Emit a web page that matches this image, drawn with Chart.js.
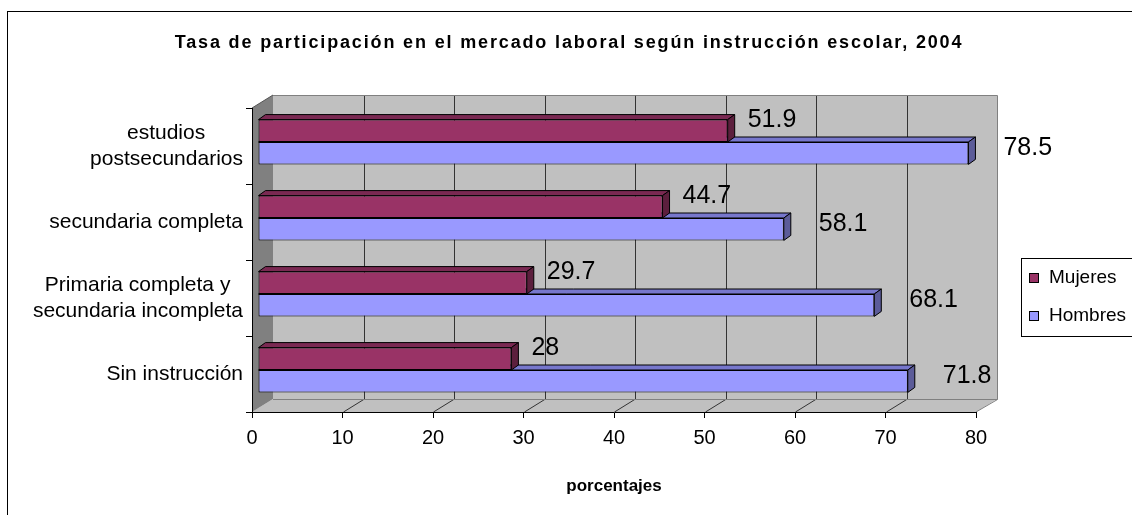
<!DOCTYPE html>
<html><head><meta charset="utf-8">
<script src="https://cdn.jsdelivr.net/npm/chart.js@4/dist/chart.umd.min.js"></script>
<style>html,body{margin:0;padding:0;background:#fff;overflow:hidden}</style>
</head><body><canvas id="c" width="1132" height="515"></canvas>
<script>
// ---- data ----
const categories = [['estudios', 'postsecundarios'], 'secundaria completa', ['Primaria completa y', 'secundaria incompleta'], 'Sin instrucción'];
const seriesNames = ['Mujeres', 'Hombres'];
const mujeres = [51.9, 44.7, 29.7, 28];
const hombres = [78.5, 58.1, 68.1, 71.8];
const xTicks = [0, 10, 20, 30, 40, 50, 60, 70, 80];
const titleText = 'Tasa de participación en el mercado laboral según instrucción escolar, 2004';
const axisTitle = 'porcentajes';

// ---- style ----
const FONT = "'Liberation Sans', Arial, sans-serif";
const fill = ['#993366', '#9999FF'];
const faces = [{top: '#7a2952', side: '#5c1f3d'}, {top: '#7777cc', side: '#5c5c99'}];
const wallDepth = {dx: 21, dy: -13};
const barShift = {dx: 6, dy: -4};
const barDepth = {dx: 7, dy: -5};
const labelOff = [{dx: 20, dy: 1}, {dx: 35, dy: 6}];
const catFont = 21;

// center the lines of a multi-line label inside its block by padding with thin spaces
const mctx = document.createElement('canvas').getContext('2d');
mctx.font = catFont + 'px ' + FONT;
function centeredLines(lab) {
  if (!Array.isArray(lab)) return lab;
  const ws = lab.map(l => mctx.measureText(l).width);
  const maxW = Math.max(...ws);
  const thin = mctx.measureText('\u2009').width || 4;
  return lab.map((l, i) => l + '\u2009'.repeat(Math.round((maxW - ws[i]) / 2 / thin)));
}

const scene3d = {
  id: 'scene3d',
  beforeDraw(chart) {
    const {ctx, chartArea: a, scales: {x}} = chart;
    const D = wallDepth;
    ctx.save();
    ctx.fillStyle = '#fff';
    ctx.fillRect(0, 0, chart.width, chart.height);
    ctx.strokeStyle = '#000'; ctx.lineWidth = 1;
    ctx.strokeRect(7.5, 11.5, chart.width + 40, chart.height + 40);
    const bl = a.left + D.dx, br = a.right + D.dx, bt = a.top + D.dy, bb = a.bottom + D.dy;
    ctx.fillStyle = '#c0c0c0';
    ctx.fillRect(bl, bt, br - bl, bb - bt);
    ctx.beginPath(); ctx.moveTo(a.left, a.bottom); ctx.lineTo(a.right, a.bottom); ctx.lineTo(br, bb); ctx.lineTo(bl, bb); ctx.closePath(); ctx.fill();
    ctx.fillStyle = '#808080';
    ctx.beginPath(); ctx.moveTo(a.left, a.top); ctx.lineTo(bl, bt); ctx.lineTo(bl, bb); ctx.lineTo(a.left, a.bottom); ctx.closePath(); ctx.fill();
    // gridlines on wall and floor
    ctx.strokeStyle = '#333';
    x.ticks.forEach(t => {
      if (t.value <= x.min || t.value >= x.max) return;
      const px = Math.round(x.getPixelForValue(t.value)) + 0.5;
      ctx.beginPath(); ctx.moveTo(px + D.dx, bt); ctx.lineTo(px + D.dx, bb); ctx.lineTo(px, a.bottom); ctx.stroke();
    });
    // outlines
    ctx.strokeStyle = '#808080';
    ctx.beginPath();
    ctx.moveTo(bl, bt + 0.5); ctx.lineTo(br + 0.5, bt + 0.5); ctx.lineTo(br + 0.5, bb + 0.5); ctx.lineTo(bl, bb + 0.5);
    ctx.moveTo(a.right, a.bottom); ctx.lineTo(br + 0.5, bb + 0.5);
    ctx.stroke();
    ctx.strokeStyle = '#555';
    ctx.beginPath(); ctx.moveTo(a.left, a.top); ctx.lineTo(bl, bt); ctx.stroke();
    ctx.restore();
  },
  beforeDatasetsDraw(chart) {
    chart.ctx.save();
    chart.ctx.translate(barShift.dx, barShift.dy);
  },
  afterDatasetDraw(chart, args) {
    const ctx = chart.ctx, c = faces[args.index], B = barDepth;
    ctx.save();
    ctx.strokeStyle = '#000'; ctx.lineWidth = 1;
    args.meta.data.forEach(el => {
      const {x, y, base, height} = el.getProps(['x', 'y', 'base', 'height'], true);
      const top = y - height / 2, bot = y + height / 2;
      ctx.fillStyle = c.top;
      ctx.beginPath(); ctx.moveTo(base, top); ctx.lineTo(x, top); ctx.lineTo(x + B.dx, top + B.dy); ctx.lineTo(base + B.dx, top + B.dy); ctx.closePath(); ctx.fill(); ctx.stroke();
      ctx.fillStyle = c.side;
      ctx.beginPath(); ctx.moveTo(x, top); ctx.lineTo(x + B.dx, top + B.dy); ctx.lineTo(x + B.dx, bot + B.dy); ctx.lineTo(x, bot); ctx.closePath(); ctx.fill(); ctx.stroke();
    });
    ctx.restore();
  },
  afterDatasetsDraw(chart) {
    const ctx = chart.ctx;
    ctx.restore();
    ctx.save();
    ctx.fillStyle = '#000';
    ctx.font = '25px ' + FONT;
    ctx.textAlign = 'left'; ctx.textBaseline = 'middle';
    chart.data.datasets.forEach((ds, i) => {
      chart.getDatasetMeta(i).data.forEach((el, j) => {
        const {x, y, height} = el.getProps(['x', 'y', 'height'], true);
        ctx.fillText(String(ds.data[j]), x + barShift.dx + labelOff[i].dx, y - height / 2 + barShift.dy + labelOff[i].dy);
      });
    });
    ctx.restore();
  },
  afterDraw(chart) {
    const ctx = chart.ctx;
    ctx.save();
    // title
    ctx.fillStyle = '#000';
    ctx.font = 'bold 18px ' + FONT;
    ctx.textAlign = 'center'; ctx.textBaseline = 'middle';
    try { ctx.letterSpacing = '1.85px'; } catch (e) {}
    ctx.fillText(titleText, 569, 43);
    try { ctx.letterSpacing = '0px'; } catch (e) {}
    // legend
    ctx.strokeStyle = '#000'; ctx.lineWidth = 1;
    ctx.strokeRect(1021.5, 258.5, 200, 78);
    ctx.font = '19px ' + FONT;
    ctx.textAlign = 'left';
    chart.data.datasets.forEach((ds, i) => {
      const cy = 278 + i * 38;
      ctx.fillStyle = ds.backgroundColor;
      ctx.fillRect(1029, cy - 5, 10, 10);
      ctx.strokeRect(1029.5, cy - 4.5, 9, 9);
      ctx.fillStyle = '#000';
      ctx.fillText(ds.label, 1049, cy);
    });
    ctx.restore();
  }
};

new Chart(document.getElementById('c'), {
  type: 'bar',
  data: {
    labels: categories,
    datasets: [
      {label: seriesNames[0], data: mujeres, backgroundColor: fill[0]},
      {label: seriesNames[1], data: hombres, backgroundColor: fill[1]}
    ]
  },
  options: {
    indexAxis: 'y',
    responsive: false,
    animation: false,
    devicePixelRatio: 1,
    datasets: {bar: {categoryPercentage: 0.59, barPercentage: 1, borderWidth: 1, borderColor: '#000', borderSkipped: false, inflateAmount: 0, clip: false}},
    layout: {padding: {left: 0, top: 108, right: 156, bottom: 0}},
    plugins: {legend: {display: false}, title: {display: false}, tooltip: {enabled: false}},
    scales: {
      x: {
        min: 0, max: 80,
        afterBuildTicks: s => { s.ticks = xTicks.map(v => ({value: v})); },
        ticks: {color: '#000', font: {size: 20, family: FONT}, padding: 8, maxRotation: 0},
        grid: {drawOnChartArea: false, drawTicks: true, tickLength: 6, tickColor: '#000'},
        border: {color: '#000', width: 1},
        title: {display: true, text: axisTitle, color: '#000', font: {size: 17, weight: 'bold', family: FONT}, padding: {top: 0, bottom: 18}},
        afterFit: s => { s.height = 103; }
      },
      y: {
        ticks: {color: '#000', font: {size: catFont, family: FONT, lineHeight: 1.22}, padding: 3, autoSkip: false,
          callback: function (v, i) { return centeredLines(categories[i]); }},
        grid: {drawOnChartArea: false, drawTicks: true, tickLength: 6, tickColor: '#000', offset: true},
        border: {color: '#000', width: 1},
        afterFit: s => { s.width = 252; }
      }
    }
  },
  plugins: [scene3d]
});
</script>
</body></html>
